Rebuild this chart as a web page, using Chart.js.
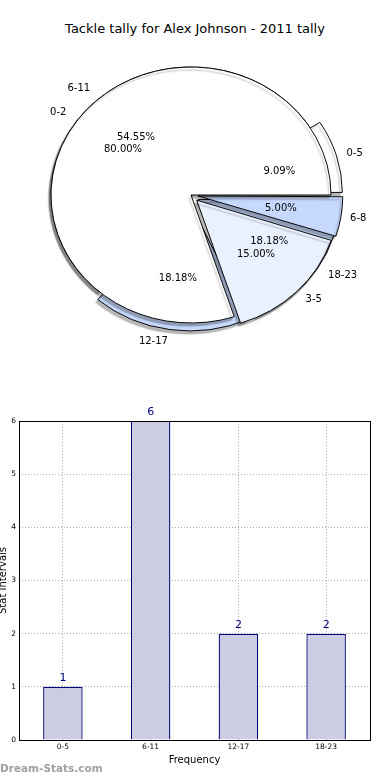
<!DOCTYPE html>
<html>
<head>
<meta charset="utf-8">
<script src="https://cdn.jsdelivr.net/npm/chart.js@4.4.1/dist/chart.umd.min.js"></script>
<style>
  body { margin: 0; width: 390px; height: 780px; background: #fff; position: relative; overflow: hidden; font-family: 'DejaVu Sans', sans-serif; }
  #title { position: absolute; left: 0; top: 21px; width: 390px; text-align: center; font-size: 13px; color: #000; }
  #outerPie, #innerPie { position: absolute; left: 0; top: 0; }
  #barChart { position: absolute; left: 0; top: 395px; }
  #mark { position: absolute; left: 0; top: 762px; font-size: 10.5px; font-weight: bold; color: #a0a0a0; }
</style>
</head>
<body>
<div id="title">Tackle tally for Alex Johnson - 2011 tally</div>
<canvas id="outerPie" width="390" height="390"></canvas>
<canvas id="innerPie" width="390" height="390"></canvas>
<canvas id="barChart" width="390" height="385"></canvas>
<div id="mark">Dream-Stats.com</div>
<script>
// tackle ranges and counts (outer pie + bars)
const ranges = ['0-5', '6-11', '12-17', '18-23'];
const tackles = [1, 6, 2, 2];
// sub ranges (second pie), percent
const subRanges = ['0-2', '3-5', '6-8'];
const subShares = [80, 15, 5];
const yTicks = [0, 1, 2, 3, 4, 5, 6];

// styling
const rangeColors = ['#ffffff', '#ffffff', '#c6d9fd', '#c6d9fd'];
const subColors = ['#ffffff', '#eaf1fe', '#c6d9fd'];
const rangeExplode = [8, 0, 8, 9];   // px the wedge is pulled out
const subExplode = [0, 8, 7];
const squashY = 128 / 140;

// matplotlib pies are a bit flat here, squash y and add the shadow
const squash = {
    id: 'squash',
    beforeDatasetsDraw(chart) {
        const c = chart.ctx, a = chart.chartArea;
        const cx = (a.left + a.right) / 2, cy = (a.top + a.bottom) / 2;
        c.save();
        c.translate(cx, cy);
        c.scale(1, squashY);
        c.translate(-cx, -cy);
        c.shadowColor = 'rgba(0,0,0,0.28)';
        c.shadowOffsetX = -2;
        c.shadowOffsetY = 3;
        c.shadowBlur = 1.5;
    },
    afterDatasetsDraw(chart) {
        chart.ctx.restore();
    }
};

// label at 1.1r, percent at 0.6r like matplotlib
function drawPieLabels(c, chart) {
    const meta = chart.getDatasetMeta(0);
    const data = chart.data.datasets[0].data;
    const total = data.reduce((s, v) => s + v, 0);
    c.save();
    c.font = '10px "DejaVu Sans"';
    c.fillStyle = '#000';
    c.textBaseline = 'middle';
    meta.data.forEach((arc, i) => {
        const p = arc.getProps(['x', 'y', 'startAngle', 'endAngle', 'outerRadius']);
        const mid = (p.startAngle + p.endAngle) / 2;
        const off = (arc.options.offset || 0) / 4;  // arc element moves offset/4
        const cos = Math.cos(mid), sin = Math.sin(mid);
        const at = d => [p.x + cos * (off + d), p.y + sin * (off + d) * squashY];
        const [lx, ly] = at(p.outerRadius * 1.1);
        c.textAlign = cos > 0 ? 'left' : 'right';
        c.fillText(chart.data.labels[i], lx, ly);
        const [px, py] = at(p.outerRadius * 0.6);
        c.textAlign = 'center';
        c.fillText((data[i] / total * 100).toFixed(2) + '%', px, py);
    });
    c.restore();
}

// chart.js goes clockwise, matplotlib counter-clockwise -> reverse the order
function pieConfig(labels, values, colors, explode, extra) {
    const rev = a => a.slice().reverse();
    return {
        type: 'pie',
        data: {
            labels: rev(labels),
            datasets: [{
                data: rev(values),
                backgroundColor: rev(colors),
                borderColor: '#000',
                borderWidth: 1,
                offset: rev(explode).map(v => v * 4)
            }]
        },
        options: {
            responsive: false,
            animation: false,
            events: [],
            rotation: 90,
            radius: 140,
            layout: { padding: { left: 0, right: 8, top: 0, bottom: 0 } },
            plugins: { legend: { display: false }, tooltip: { enabled: false } }
        },
        plugins: [squash].concat(extra)
    };
}

const outerPie = new Chart(document.getElementById('outerPie'),
    pieConfig(ranges, tackles, rangeColors, rangeExplode, []));

// labels of both pies go on the top canvas
const allLabels = {
    id: 'allLabels',
    afterDraw(chart) {
        drawPieLabels(chart.ctx, outerPie);
        drawPieLabels(chart.ctx, chart);
    }
};

new Chart(document.getElementById('innerPie'),
    pieConfig(subRanges, subShares, subColors, subExplode, [allLabels]));

const barValues = {
    id: 'barValues',
    afterDatasetsDraw(chart) {
        const c = chart.ctx;
        const meta = chart.getDatasetMeta(0);
        c.save();
        c.font = '11px "DejaVu Sans"';
        c.fillStyle = '#000080';
        c.textAlign = 'center';
        c.textBaseline = 'middle';
        meta.data.forEach((bar, i) => {
            c.fillText(String(tackles[i]), bar.x, bar.y - 9);
        });
        c.restore();
    }
};

const frame = {
    id: 'frame',
    afterDraw(chart) {
        const c = chart.ctx, a = chart.chartArea;
        c.save();
        c.strokeStyle = '#000';
        c.lineWidth = 1;
        c.strokeRect(Math.round(a.left) + 0.5, Math.round(a.top) + 0.5,
            Math.round(a.right - a.left), Math.round(a.bottom - a.top));
        c.restore();
    }
};

new Chart(document.getElementById('barChart'), {
    type: 'bar',
    data: {
        labels: ranges,
        datasets: [{
            data: tackles,
            backgroundColor: '#cccce3',
            borderColor: '#00007a',
            borderWidth: 1.3,
            barPercentage: 0.45,
            categoryPercentage: 1
        }]
    },
    options: {
        responsive: false,
        animation: false,
        events: [],
        layout: { padding: { left: 0, right: 20, top: 26, bottom: 0 } },
        plugins: { legend: { display: false }, tooltip: { enabled: false } },
        scales: {
            x: {
                offset: true,
                grid: { offset: false, color: '#aaaaaa', drawTicks: false },
                border: { display: false, dash: [1, 2] },
                ticks: { color: '#000', font: { size: 7.5, family: 'DejaVu Sans' }, padding: 3, maxRotation: 0 },
                title: { display: true, text: 'Frequency', color: '#000', font: { size: 10, family: 'DejaVu Sans' }, padding: { top: 0, bottom: 14 } },
                afterFit(s) { s.height = 40; }
            },
            y: {
                min: yTicks[0],
                max: yTicks[yTicks.length - 1],
                grid: { color: '#aaaaaa', drawTicks: false },
                border: { display: false, dash: [1, 2] },
                ticks: { stepSize: 1, color: '#000', font: { size: 7.5, family: 'DejaVu Sans' }, padding: 3 },
                afterBuildTicks(s) { s.ticks = yTicks.map(v => ({ value: v })); },
                title: { display: true, text: 'Stat Intervals', color: '#000', font: { size: 10, family: 'DejaVu Sans' }, padding: { top: -3, bottom: 0 } },
                afterFit(s) { s.width = 19; }
            }
        }
    },
    plugins: [barValues, frame]
});
</script>
</body>
</html>
